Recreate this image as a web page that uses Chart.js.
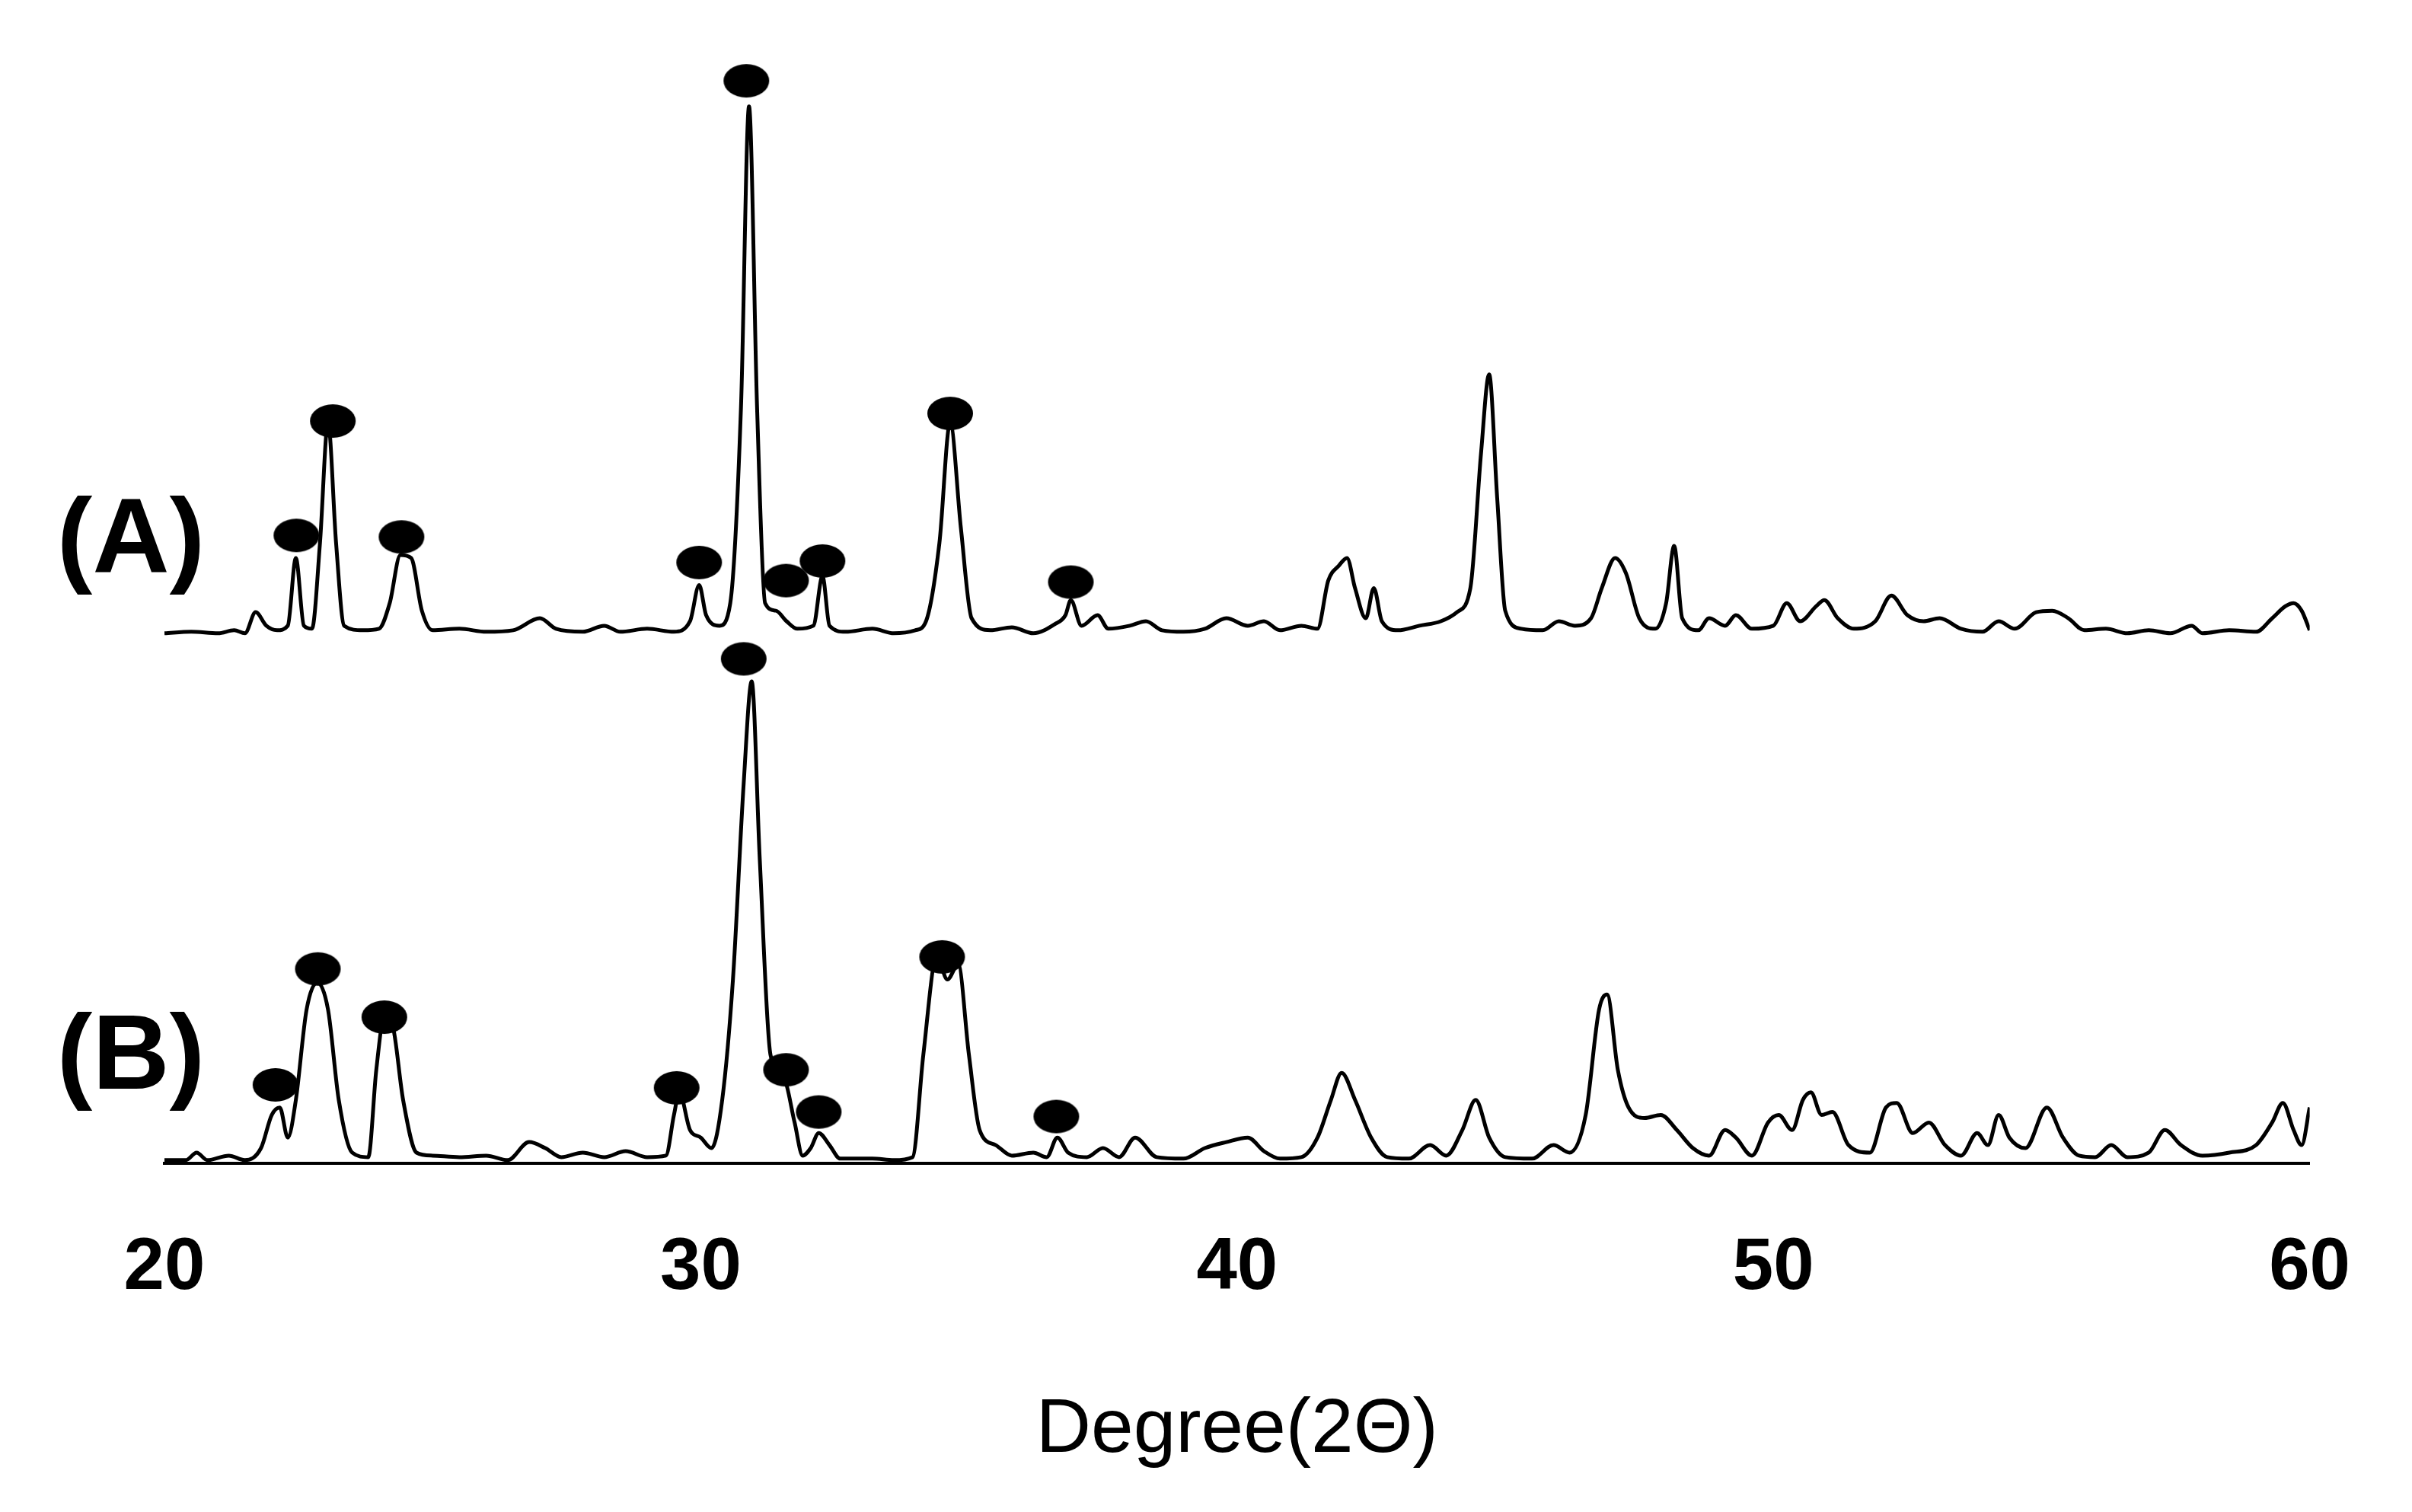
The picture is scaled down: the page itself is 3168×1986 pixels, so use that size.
<!DOCTYPE html>
<html>
<head>
<meta charset="utf-8">
<script src="https://cdn.jsdelivr.net/npm/chart.js@4"></script>
<style>
  body { margin: 0; background: #fff; }
  #wrap { width: 3168px; height: 1986px; }
</style>
</head>
<body>
<div id="wrap"><canvas id="myChart"></canvas></div>
<script>
// pattern A: angle / intensity above its own baseline
const angleA = [20.0,20.5,21.0,21.3,21.5,21.7,21.9,22.1,22.3,22.45,22.6,22.75,22.9,23.05,23.2,23.35,23.7,24.0,24.2,24.4,24.6,24.8,25.0,25.5,26.0,26.5,27.0,27.3,27.8,28.2,28.5,29.0,29.5,29.8,29.97,30.1,30.35,30.55,30.75,30.9,31.05,31.2,31.4,31.6,31.8,32.1,32.27,32.4,32.7,33.2,33.6,34.0,34.2,34.45,34.65,34.85,35.05,35.4,35.8,36.2,36.6,36.8,36.9,37.1,37.4,37.6,38.0,38.3,38.6,39.0,39.4,39.8,40.2,40.5,40.8,41.2,41.5,41.7,41.9,42.05,42.2,42.4,42.55,42.7,43.0,43.4,43.8,44.1,44.35,44.55,44.7,44.85,45.0,45.3,45.7,46.0,46.3,46.6,46.8,47.05,47.25,47.5,47.8,48.0,48.15,48.3,48.6,48.8,49.1,49.3,49.6,50.0,50.25,50.5,50.8,50.95,51.2,51.5,51.9,52.2,52.5,52.8,53.1,53.5,53.9,54.2,54.5,54.9,55.2,55.5,55.8,56.2,56.6,57.0,57.4,57.8,58.0,58.5,59.0,59.3,59.55,59.7,59.85,60.0];
const intensityA = [0,1,0,2,0,14,5,2,5,50,5,3,60,140,60,5,2,3,20,52,50,15,2,3,1,2,10,3,1,5,1,3,1,8,32,12,5,20,150,350,150,20,15,8,3,5,38,5,1,3,0,2,8,60,140,70,10,2,4,0,6,12,22,5,12,3,5,8,2,1,3,10,5,8,2,5,3,35,45,50,30,10,30,8,2,5,8,14,30,120,172,90,15,3,2,8,5,10,30,50,40,10,3,20,58,10,2,10,5,12,3,5,20,8,18,22,10,3,8,25,12,8,10,3,1,8,3,14,15,10,2,3,0,2,0,5,0,2,1,10,18,20,15,2];

// pattern B
const angleB = [20.0,20.4,20.6,20.8,21.2,21.5,21.8,22.0,22.15,22.3,22.45,22.65,22.85,23.05,23.25,23.5,23.8,23.95,24.1,24.25,24.45,24.7,25.0,25.5,26.0,26.4,26.8,27.1,27.4,27.8,28.2,28.6,29.0,29.35,29.5,29.6,29.8,30.0,30.2,30.4,30.6,30.8,30.95,31.1,31.3,31.55,31.75,31.9,32.05,32.2,32.4,32.6,33.2,33.6,33.95,34.15,34.4,34.6,34.8,35.0,35.2,35.5,35.8,36.2,36.45,36.65,36.85,37.2,37.5,37.8,38.1,38.5,39.0,39.4,39.8,40.2,40.5,40.8,41.2,41.5,41.75,41.95,42.2,42.5,42.8,43.2,43.6,43.9,44.2,44.45,44.7,45.0,45.5,45.9,46.2,46.5,46.75,46.9,47.1,47.3,47.6,47.9,48.2,48.5,48.8,49.1,49.3,49.6,49.9,50.1,50.35,50.55,50.7,50.9,51.1,51.4,51.8,52.1,52.3,52.6,52.9,53.2,53.5,53.8,54.0,54.2,54.4,54.7,55.1,55.4,55.7,56.0,56.3,56.6,57.0,57.3,57.6,58.0,58.5,59.0,59.3,59.5,59.7,59.85,60.0];
const intensityB = [0,0,5,0,3,0,8,30,35,15,40,100,118,100,40,5,2,60,95,90,40,5,3,2,3,0,12,8,2,5,2,6,2,3,30,45,20,15,8,40,120,250,318,200,70,55,25,3,8,18,10,1,1,0,2,70,135,120,130,70,20,10,3,5,2,15,5,2,8,2,15,2,1,8,12,15,6,1,2,15,40,58,40,15,2,1,10,3,20,40,15,2,1,10,5,30,100,110,60,35,28,30,20,8,3,20,15,3,25,30,20,40,45,30,32,10,5,35,38,18,25,10,3,18,10,30,15,8,35,15,3,2,10,2,5,20,10,3,5,10,25,38,20,10,35];

// phase markers (filled ellipses)
const markerAngleA = [22.46,23.14,24.42,29.97,30.85,31.59,32.27,34.65,36.9];
const markerHeightA = [417,493,416,399,719,387,400,498,386];
const markerAngleB = [22.07,22.86,24.1,29.55,30.8,31.59,32.2,34.5,36.63];
const markerHeightB = [52,129,97,50,335,62,34,137,31];

const xTicks = [20, 30, 40, 50, 60];
const offsetA = 352;
const offsetB = 2;

function toPoints(xs, ys, off) {
  return xs.map((x, i) => ({ x: x, y: ys[i] + off }));
}

const ellipse = document.createElement("canvas");
ellipse.width = 62; ellipse.height = 46;
const ec = ellipse.getContext("2d");
ec.fillStyle = "#000";
ec.beginPath();
ec.ellipse(31, 23, 30, 22, 0, 0, Math.PI * 2);
ec.fill();

const labelPlugin = {
  id: "panelLabels",
  afterDraw(chart) {
    const ctx = chart.ctx;
    const y = chart.scales.y;
    ctx.save();
    ctx.fillStyle = "#000";
    ctx.font = "bold 140px 'Liberation Sans', Arial, sans-serif";
    ctx.textAlign = "center";
    ctx.textBaseline = "middle";
    ctx.fillText("(A)", 172, y.getPixelForValue(412));
    ctx.fillText("(B)", 172, y.getPixelForValue(69));
    ctx.restore();
  }
};

const lineStyle = { borderColor: "#000", borderWidth: 5, pointRadius: 0, cubicInterpolationMode: "monotone", fill: false };

new Chart(document.getElementById("myChart"), {
  type: "scatter",
  data: {
    datasets: [
      Object.assign({ type: "line", data: toPoints(angleA, intensityA, offsetA) }, lineStyle),
      Object.assign({ type: "line", data: toPoints(angleB, intensityB, offsetB) }, lineStyle),
      { data: toPoints(markerAngleA, markerHeightA, 0).concat(toPoints(markerAngleB, markerHeightB, 0)),
        pointStyle: ellipse, pointRadius: 30, clip: false }
    ]
  },
  options: {
    responsive: true,
    maintainAspectRatio: false,
    animation: false,
    layout: { padding: { left: 216, right: 98, top: 0, bottom: 0 } },
    plugins: { legend: { display: false }, tooltip: { enabled: false } },
    scales: {
      x: {
        type: "linear", min: 20, max: 60,
        afterBuildTicks: (axis) => { axis.ticks = xTicks.map(v => ({ value: v })); },
        grid: { display: false, drawTicks: false },
        border: { display: true, color: "#000", width: 4 },
        ticks: { color: "#000", padding: 81, font: { family: "'Liberation Sans', Arial", size: 96, weight: "bold" } },
        title: { display: true, text: "Degree(2Θ)", color: "#000",
                 padding: { top: 14, bottom: 47 },
                 font: { family: "'Liberation Sans', Arial", size: 100 } }
      },
      y: { display: false, min: 0, max: 757 }
    }
  },
  plugins: [labelPlugin]
});
</script>
</body>
</html>
